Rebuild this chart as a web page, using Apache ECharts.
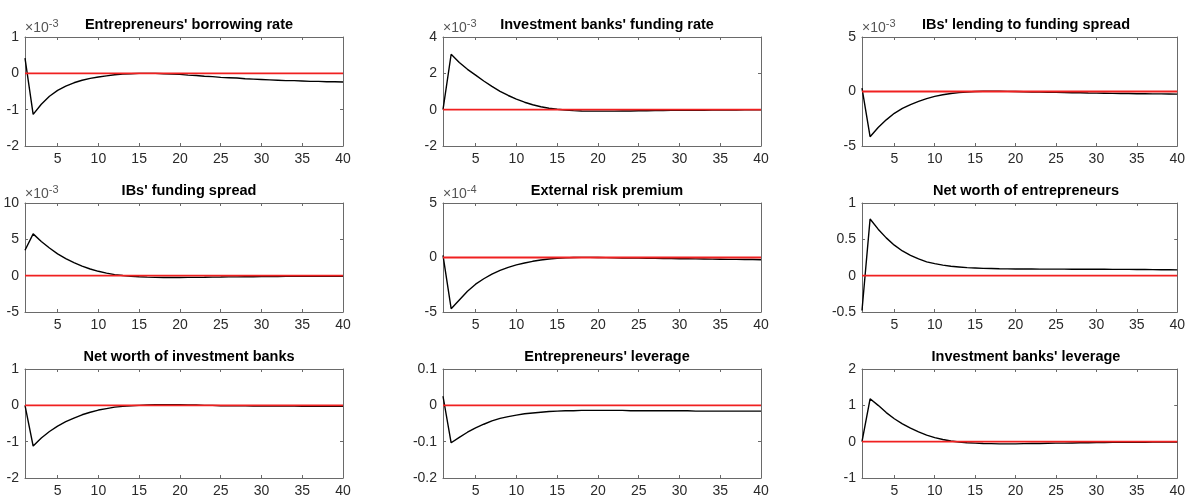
<!DOCTYPE html>
<html>
<head>
<meta charset="utf-8">
<script src="https://cdn.jsdelivr.net/npm/echarts@6/dist/echarts.min.js"></script>
<style>
html,body{margin:0;padding:0;background:#fff;}
#chart{width:1188px;height:499px;}
</style>
</head>
<body>
<div id="chart"></div>
<script>
// Periods (x axis categories)
const periods = ['1','2','3','4','5','6','7','8','9','10','11','12','13','14','15','16','17','18','19','20',
  '21','22','23','24','25','26','27','28','29','30','31','32','33','34','35','36','37','38','39','40'];

const titles = ["Entrepreneurs' borrowing rate", "Investment banks' funding rate", "IBs' lending to funding spread",
  "IBs' funding spread", "External risk premium", "Net worth of entrepreneurs",
  "Net worth of investment banks", "Entrepreneurs' leverage", "Investment banks' leverage"];

// exponent shown above each axis ('' = none)
const exponents = ['-3','-3','-3','-3','-4','','','',''];

// y-axis tick ranges
const yMins  = [-2, -2, -5, -5, -5, -0.5, -2, -0.2, -1];
const yMaxs  = [ 1,  4,  5, 10,  5,  1,    1,  0.1,  2];
const ySteps = [ 1,  2,  5,  5,  5,  0.5,  1,  0.1,  1];

// steady-state reference (zero deviation) line
const zeroLine = [0,0,0,0,0,0,0,0,0,0,0,0,0,0,0,0,0,0,0,0,0,0,0,0,0,0,0,0,0,0,0,0,0,0,0,0,0,0,0,0];

// series values (in displayed units, i.e. already multiplied by the exponent factor)
const borrowingRate = [0.42,-1.13,-0.85,-0.63,-0.47,-0.35,-0.26,-0.19,-0.14,-0.10,-0.07,-0.04,-0.02,-0.01,0.00,0.00,0.00,-0.01,-0.02,-0.03,
  -0.05,-0.06,-0.08,-0.09,-0.11,-0.12,-0.13,-0.15,-0.16,-0.17,-0.18,-0.19,-0.20,-0.20,-0.21,-0.22,-0.22,-0.23,-0.23,-0.24];
const ibFundingRate = [0.00,3.05,2.60,2.22,1.90,1.58,1.28,1.01,0.78,0.58,0.41,0.27,0.16,0.08,0.02,-0.02,-0.05,-0.07,-0.08,-0.08,
  -0.08,-0.08,-0.07,-0.07,-0.06,-0.06,-0.05,-0.05,-0.04,-0.04,-0.03,-0.03,-0.03,-0.02,-0.02,-0.02,-0.02,-0.01,-0.01,-0.01];
const lendingSpread = [0.30,-4.15,-3.30,-2.60,-2.00,-1.55,-1.20,-0.90,-0.65,-0.45,-0.30,-0.18,-0.10,-0.04,0.00,0.02,0.03,0.02,0.01,0.00,
  -0.02,-0.04,-0.05,-0.07,-0.08,-0.10,-0.11,-0.12,-0.14,-0.15,-0.16,-0.17,-0.18,-0.19,-0.20,-0.21,-0.22,-0.22,-0.23,-0.24];
const fundingSpread = [3.50,5.75,4.70,3.80,3.00,2.35,1.80,1.32,0.92,0.60,0.35,0.15,0.02,-0.08,-0.15,-0.20,-0.23,-0.25,-0.25,-0.25,
  -0.24,-0.23,-0.22,-0.20,-0.19,-0.17,-0.16,-0.15,-0.14,-0.13,-0.12,-0.11,-0.10,-0.10,-0.09,-0.09,-0.08,-0.08,-0.08,-0.07];
const riskPremium = [0.20,-4.70,-3.90,-3.10,-2.45,-1.95,-1.52,-1.18,-0.90,-0.68,-0.50,-0.35,-0.23,-0.14,-0.08,-0.03,0.00,0.01,0.01,0.00,
  -0.01,-0.02,-0.04,-0.05,-0.06,-0.07,-0.08,-0.09,-0.10,-0.11,-0.12,-0.13,-0.14,-0.15,-0.16,-0.17,-0.17,-0.18,-0.19,-0.20];
const netWorthEntrepreneurs = [-0.48,0.78,0.64,0.52,0.42,0.34,0.28,0.23,0.19,0.165,0.145,0.13,0.12,0.11,0.105,0.10,0.098,0.095,0.093,0.092,
  0.091,0.091,0.090,0.090,0.090,0.090,0.089,0.089,0.089,0.088,0.088,0.087,0.087,0.086,0.085,0.084,0.083,0.082,0.081,0.080];
const netWorthIB = [0.00,-1.12,-0.90,-0.72,-0.57,-0.45,-0.35,-0.26,-0.19,-0.13,-0.09,-0.05,-0.03,-0.01,0.00,0.01,0.02,0.02,0.02,0.02,
  0.01,0.01,0.00,0.00,-0.01,-0.01,-0.01,-0.01,-0.02,-0.02,-0.02,-0.02,-0.02,-0.02,-0.03,-0.03,-0.03,-0.03,-0.03,-0.03];
const entLeverage = [0.025,-0.103,-0.088,-0.074,-0.062,-0.052,-0.043,-0.036,-0.031,-0.027,-0.023,-0.021,-0.019,-0.017,-0.016,-0.015,-0.015,-0.014,-0.014,-0.014,
  -0.014,-0.014,-0.014,-0.015,-0.015,-0.015,-0.015,-0.015,-0.015,-0.015,-0.015,-0.016,-0.016,-0.016,-0.016,-0.016,-0.016,-0.016,-0.016,-0.016];
const ibLeverage = [0.00,1.18,1.00,0.80,0.63,0.49,0.37,0.27,0.18,0.11,0.06,0.02,-0.01,-0.03,-0.04,-0.05,-0.055,-0.06,-0.06,-0.06,
  -0.055,-0.05,-0.05,-0.045,-0.04,-0.04,-0.035,-0.03,-0.03,-0.025,-0.025,-0.02,-0.02,-0.02,-0.015,-0.015,-0.01,-0.01,-0.01,-0.01];

const allSeries = [borrowingRate, ibFundingRate, lendingSpread, fundingSpread, riskPremium,
  netWorthEntrepreneurs, netWorthIB, entLeverage, ibLeverage];

// layout
const colLeft = [25, 443, 862];
const rowTop = [37, 203, 369];
const gridW = 318, gridH = 109;

const FONT = "'Liberation Sans', Arial, Helvetica, sans-serif";
const BOX = '#6a6a6a';
const LABEL = '#2a2a2a';
const RED = '#f02020';

const tickEvery5 = (idx) => (idx + 1) % 5 === 0;

const grids = [], xAxes = [], yAxes = [], series = [], titleArr = [];

for (let i = 0; i < 9; i++) {
  const r = Math.floor(i / 3), c = i % 3;
  const left = colLeft[c], top = rowTop[r];
  grids.push({ left: left, top: top, width: gridW, height: gridH });

  titleArr.push({
    text: titles[i],
    left: left + gridW / 2,
    top: top - 25,
    textAlign: 'center',
    textStyle: { fontFamily: FONT, fontWeight: 'bold', fontSize: 14.5, color: '#000' }
  });

  xAxes.push({
    type: 'category', data: periods, gridIndex: i, boundaryGap: false, position: 'bottom',
    axisLine: { show: true, onZero: false, lineStyle: { color: BOX, width: 1 } },
    axisTick: { show: true, inside: true, length: 3, interval: tickEvery5, lineStyle: { color: BOX } },
    splitLine: { show: false },
    axisLabel: { show: true, interval: tickEvery5, margin: 6, color: LABEL, fontFamily: FONT, fontSize: 14 }
  });
  xAxes.push({
    type: 'category', data: periods, gridIndex: i, boundaryGap: false, position: 'top',
    axisLine: { show: true, onZero: false, lineStyle: { color: BOX, width: 1 } },
    axisTick: { show: true, inside: true, length: 3, interval: tickEvery5, lineStyle: { color: BOX } },
    splitLine: { show: false }, axisLabel: { show: false }
  });

  const yLeft = {
    type: 'value', gridIndex: i, min: yMins[i], max: yMaxs[i], interval: ySteps[i], position: 'left',
    axisLine: { show: true, onZero: false, lineStyle: { color: BOX, width: 1 } },
    axisTick: { show: true, inside: true, length: 3, lineStyle: { color: BOX } },
    splitLine: { show: false },
    axisLabel: { show: true, margin: 6, color: LABEL, fontFamily: FONT, fontSize: 14 }
  };
  if (exponents[i]) {
    yLeft.name = '{a|\u00d710}{b|' + exponents[i] + '}';
    yLeft.nameLocation = 'end';
    yLeft.nameGap = 2;
    yLeft.nameTextStyle = {
      align: 'left', verticalAlign: 'bottom',
      rich: {
        a: { fontFamily: FONT, fontSize: 14, color: '#555', verticalAlign: 'bottom', lineHeight: 17 },
        b: { fontFamily: FONT, fontSize: 11, color: '#555', verticalAlign: 'top', lineHeight: 17 }
      }
    };
  }
  yAxes.push(yLeft);
  yAxes.push({
    type: 'value', gridIndex: i, min: yMins[i], max: yMaxs[i], interval: ySteps[i], position: 'right',
    axisLine: { show: true, onZero: false, lineStyle: { color: BOX, width: 1 } },
    axisTick: { show: true, inside: true, length: 3, lineStyle: { color: BOX } },
    splitLine: { show: false }, axisLabel: { show: false }
  });

  series.push({
    type: 'line', xAxisIndex: 2 * i, yAxisIndex: 2 * i, data: allSeries[i],
    symbol: 'none', silent: true,
    itemStyle: { color: '#000' },
    lineStyle: { color: '#000', width: 1.4 },
    z: 3
  });
  series.push({
    type: 'line', xAxisIndex: 2 * i, yAxisIndex: 2 * i, data: zeroLine,
    symbol: 'none', silent: true,
    itemStyle: { color: RED },
    lineStyle: { color: RED, width: 1.8 },
    z: 4
  });
}

const chart = echarts.init(document.getElementById('chart'));
chart.setOption({
  backgroundColor: '#fff',
  animation: false,
  title: titleArr,
  grid: grids,
  xAxis: xAxes,
  yAxis: yAxes,
  series: series
});
</script>
</body>
</html>
